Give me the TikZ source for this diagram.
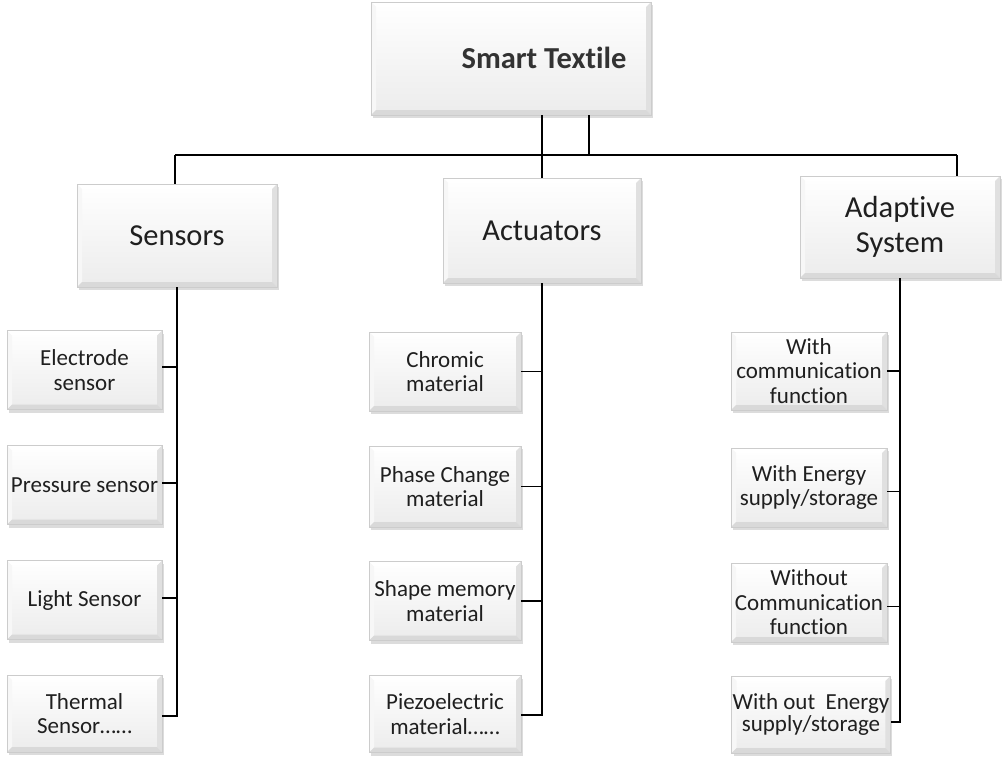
\documentclass[tikz,border=0pt]{standalone}
\usepackage{fontspec}
\setmainfont{Carlito}[Ligatures=NoCommon]
\usetikzlibrary{shadows}
\begin{document}
\begin{tikzpicture}[x=1pt,y=-1pt,
  bevbox/.style={
    draw=gray!40, line width=0.6pt,
    top color=white, bottom color=gray!15,
    drop shadow={shadow xshift=2pt, shadow yshift=-3pt, opacity=0.25, fill=black!55},
    path picture={
      \fill[white] (path picture bounding box.north west) -- (path picture bounding box.north east)
        -- ([shift={(-5pt,-5pt)}]path picture bounding box.north east) -- ([shift={(5pt,-5pt)}]path picture bounding box.north west) -- cycle;
      \fill[gray!6] (path picture bounding box.north west) -- ([shift={(5pt,-5pt)}]path picture bounding box.north west)
        -- ([shift={(5pt,5pt)}]path picture bounding box.south west) -- (path picture bounding box.south west) -- cycle;
      \fill[gray!24] (path picture bounding box.north east) -- ([shift={(-5pt,-5pt)}]path picture bounding box.north east)
        -- ([shift={(-5pt,5pt)}]path picture bounding box.south east) -- (path picture bounding box.south east) -- cycle;
      \fill[gray!30] (path picture bounding box.south west) -- ([shift={(5pt,5pt)}]path picture bounding box.south west)
        -- ([shift={(-5pt,5pt)}]path picture bounding box.south east) -- (path picture bounding box.south east) -- cycle;
    },
    align=center, inner sep=1pt, text=black!88},
  mainbox/.style={bevbox, minimum width=200pt, minimum height=102pt, font=\fontsize{30.5}{35}\selectfont},
  subbox/.style={bevbox, minimum width=155pt, minimum height=79pt, font=\fontsize{23}{24.5}\selectfont},
  link/.style={line width=1.4pt, black}
]
\useasboundingbox (0,0) rectangle (1003,760);

% root
\node[bevbox, minimum width=280pt, minimum height=113pt] (top) at (511,58.5) {};
\node[font=\fontsize{30.5}{35}\bfseries\selectfont, text=black!80] (toplabel) at (544,58) {Smart Textile};

% second level
\node[mainbox, minimum height=103pt] (sens) at (177,235.5) {Sensors};
\node[mainbox, minimum width=198pt, minimum height=105pt] (act) at (542,230.5) {Actuators};
\node[mainbox] (ada) at (900,227) {Adaptive\\System};

% sensors
\node[subbox] (s1) at (84.5,370) {Electrode\\sensor};
\node[subbox] (s2) at (84.5,485) {Pressure sensor};
\node[subbox] (s3) at (84.5,600) {Light Sensor};
\node[subbox, minimum height=77pt] (s4) at (84.5,713.5) {Thermal\\Sensor……};

% actuators
\node[subbox, minimum width=152pt] (a1) at (445,371.5) {Chromic\\material};
\node[subbox, minimum width=152pt, minimum height=81pt] (a2) at (445,486.5) {Phase Change\\material};
\node[subbox, minimum width=152pt] (a3) at (445,601) {Shape memory\\material};
\node[subbox, minimum width=152pt, minimum height=77pt] (a4) at (445,714) {Piezoelectric\\material……};

% adaptive system
\node[subbox, minimum width=156pt, minimum height=78pt] (d1) at (809,371) {With\\communication\\function};
\node[subbox, minimum width=156pt] (d2) at (809,487.5) {With Energy\\supply/storage};
\node[subbox, minimum width=156pt] (d3) at (809,602.5) {Without\\Communication\\function};
\node[subbox, minimum width=156pt, minimum height=77pt] (d4) at (811,714.5) {With out~ Energy\\[-2.5pt]supply/storage};

% top level connectors
\coordinate (hl) at (175,155);
\coordinate (hr) at (957,155);
\coordinate (tj) at (589,155);
\draw[link] (hl) -- (hr);
\draw[link] (hl) -- (hl |- sens.north);
\draw[link] (hr) -- (hr |- ada.north);
\draw[link] (top.south -| tj) -- (tj);
\draw[link] (top.south -| act.north) -- (act.north);

% sensors branch
\draw[link] (sens.south) -- (sens.south |- 0,716) -- (s4.east |- 0,716);
\draw[link] ([yshift=3pt]s1.east) -- ([yshift=3pt]s1.east -| sens.south);
\draw[link] ([yshift=2pt]s2.east) -- ([yshift=2pt]s2.east -| sens.south);
\draw[link] ([yshift=2pt]s3.east) -- ([yshift=2pt]s3.east -| sens.south);

% actuators branch
\draw[link] (act.south) -- (act.south |- 0,715) -- (a4.east |- 0,715);
\draw[link] (a1.east) -- (a1.east -| act.south);
\draw[link] (a2.east) -- (a2.east -| act.south);
\draw[link] (a3.east) -- (a3.east -| act.south);

% adaptive system branch
\draw[link] (ada.south) -- (ada.south |- 0,722) -- (d4.east |- 0,722);
\draw[link] (d1.east) -- (d1.east -| ada.south);
\draw[link] ([yshift=-4pt]d2.east) -- ([yshift=-4pt]d2.east -| ada.south);
\draw[link] ([yshift=-4pt]d3.east) -- ([yshift=-4pt]d3.east -| ada.south);
\end{tikzpicture}
\end{document}
